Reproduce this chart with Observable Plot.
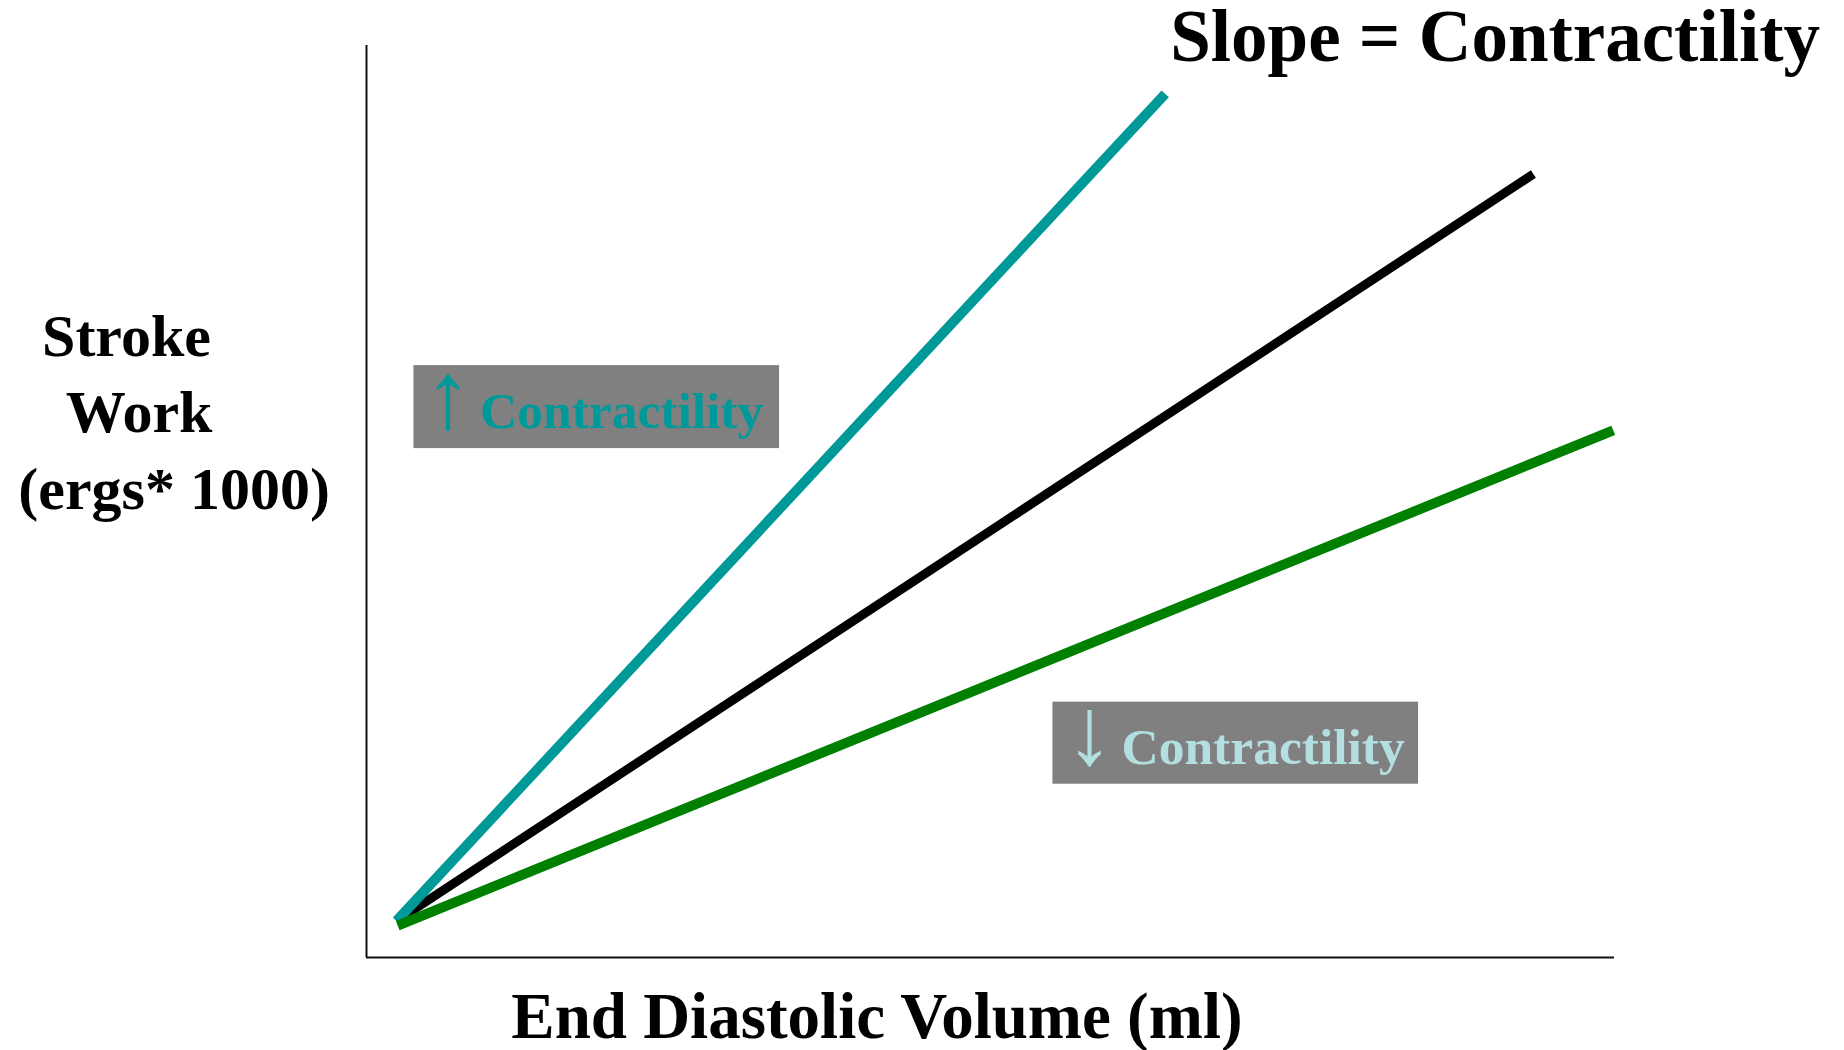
<!DOCTYPE html>
<html>
<head>
<meta charset="utf-8">
<script src="https://cdn.jsdelivr.net/npm/d3@7"></script>
<script src="https://cdn.jsdelivr.net/npm/@observablehq/plot@0.6"></script>
<style>
  html, body { margin: 0; padding: 0; background: #fff; }
  #chart svg { display: block; }
</style>
</head>
<body>
<div id="chart"></div>
<script>
// Stroke work vs end diastolic volume: three contractility lines (arbitrary units 0–100)
const curves = ["increased", "normal", "decreased"];
const edvStart = [2.4, 2.4, 2.5];
const workStart = [4.0, 4.0, 3.5];
const edvEnd = [64.0, 93.5, 99.9];
const workEnd = [94.7, 85.9, 57.8];

// Annotation boxes
const boxX1 = [3.8, 55.0];
const boxX2 = [33.1, 84.3];
const boxY1 = [55.8, 19.0];
const boxY2 = [64.9, 28.0];
const boxArrows = ["↑", "↓"];
const boxWord = ["Contractility", "Contractility"];
const arrowX = [4.6, 56.0];
const wordX = [9.1, 60.5];
const wordY = [58.1, 21.2];

// Axis titles
const yTitleLines = ["Stroke", "Work", "(ergs* 1000)"];
const yTitleX = [-26.0, -24.1, -27.9];
const yTitleY = [66.0, 57.6, 49.2];
const xTitle = "End Diastolic Volume (ml)";
const heading = "Slope = Contractility";

const colors = {increased: "#009999", normal: "#000000", decreased: "#008000"};
const widths = {increased: 10, normal: 9, decreased: 10};
const serif = "'Liberation Serif', 'Times New Roman', serif";

const lines = curves.map((c, i) => ({
  curve: c, x1: edvStart[i], y1: workStart[i], x2: edvEnd[i], y2: workEnd[i]
}));
const boxes = boxArrows.map((a, i) => ({
  x1: boxX1[i], x2: boxX2[i], y1: boxY1[i], y2: boxY2[i],
  arrow: a, word: boxWord[i], ax: arrowX[i], wx: wordX[i], wy: wordY[i]
}));
const yTitle = yTitleLines.map((t, i) => ({t, x: yTitleX[i], y: yTitleY[i]}));

const lineMark = (c) => Plot.link(lines.filter(d => d.curve === c), {
  x1: "x1", y1: "y1", x2: "x2", y2: "y2",
  stroke: colors[c], strokeWidth: widths[c], strokeLinecap: "butt"
});

const boxLabel = (rows, color) => [
  Plot.text(rows, {x: "ax", y: "wy", text: "arrow", textAnchor: "start", lineAnchor: "bottom",
    fill: color, fontSize: 96, fontFamily: serif}),
  Plot.text(rows, {x: "wx", y: "wy", text: "word", textAnchor: "start", lineAnchor: "bottom",
    fill: color, fontSize: 51.5, fontWeight: "bold", fontFamily: serif})
];

const chart = Plot.plot({
  width: 1844,
  height: 1050,
  marginLeft: 366,
  marginRight: 230,
  marginTop: 45,
  marginBottom: 93,
  x: {domain: [0, 100], axis: null},
  y: {domain: [0, 100], axis: null},
  style: {background: "#fff", fontFamily: serif, overflow: "visible"},
  marks: [
    // axes
    Plot.ruleX([0], {y1: 0, y2: 100, stroke: "#111", strokeWidth: 2}),
    Plot.ruleY([0], {x1: 0, x2: 100, stroke: "#111", strokeWidth: 2}),
    // boxes
    Plot.rect(boxes, {x1: "x1", x2: "x2", y1: "y1", y2: "y2", fill: "#808080"}),
    // lines
    lineMark("normal"),
    lineMark("increased"),
    lineMark("decreased"),
    // box labels
    ...boxLabel(boxes.slice(0, 1), "#009999"),
    ...boxLabel(boxes.slice(1), "#b4dfe0"),
    // y title
    Plot.text(yTitle, {x: "x", y: "y", text: "t", textAnchor: "start", lineAnchor: "bottom",
      fill: "#000", fontSize: 60, fontWeight: "bold", fontFamily: serif}),
    // x title
    Plot.text([xTitle], {x: 40.9, y: -8.8, text: d => d, textAnchor: "middle", lineAnchor: "bottom",
      fill: "#000", fontSize: 65, fontWeight: "bold", fontFamily: serif}),
    // heading
    Plot.text([heading], {x: 64.4, y: 98.25, text: d => d, textAnchor: "start", lineAnchor: "bottom",
      fill: "#000", fontSize: 73, fontWeight: "bold", fontFamily: serif})
  ]
});

document.getElementById("chart").appendChild(chart);
</script>
</body>
</html>
